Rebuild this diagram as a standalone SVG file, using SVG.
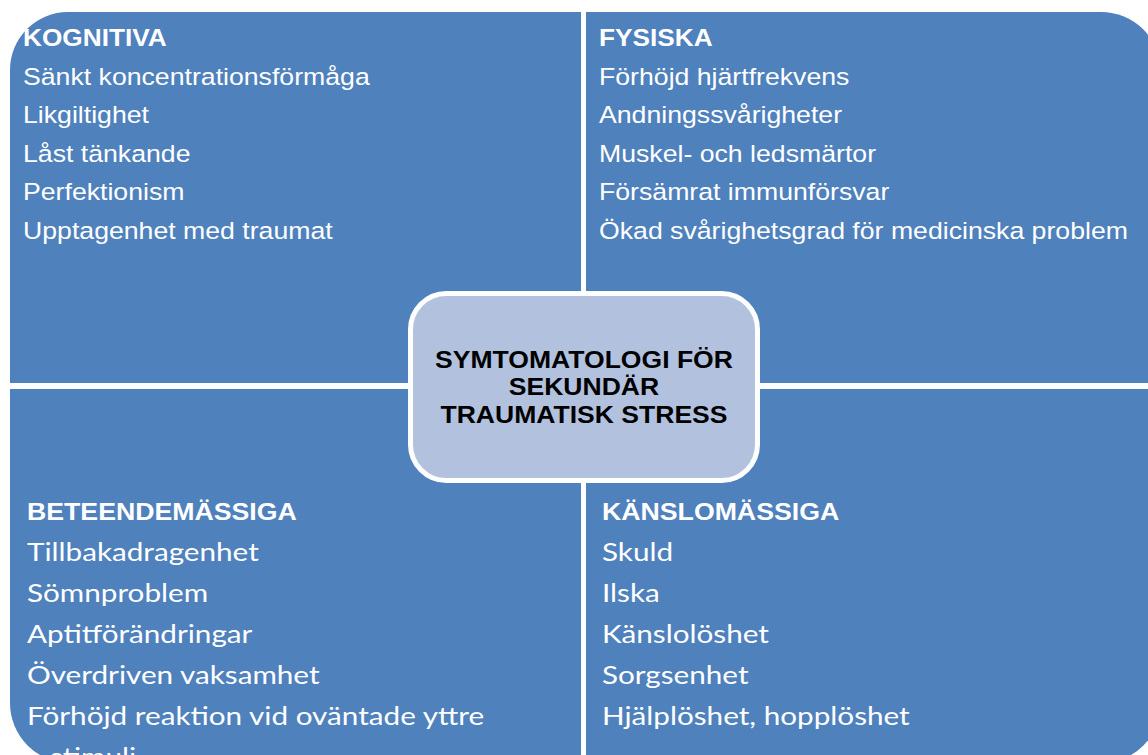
<svg xmlns="http://www.w3.org/2000/svg" width="1148" height="755" viewBox="0 0 1148 755">
<style>
.q{fill:#4F81BD}
.a{font-family:"Liberation Sans",Arial,sans-serif;font-size:23.7px;fill:#fff}
.ab{font-family:"Liberation Sans",Arial,sans-serif;font-size:23.2px;font-weight:bold;fill:#fff}
.c{font-family:Lato,"Noto Sans",sans-serif;font-size:25.7px;fill:#fff}
.ct{font-family:"Liberation Sans",Arial,sans-serif;font-size:23.7px;font-weight:bold;fill:#000;text-anchor:middle}
</style>
<rect width="1148" height="755" fill="#fff"/>
<g id="kognitiva">
<path class="q" d="M10,383 L10,70 A58,58 0 0 1 68,12 L581,12 L581,383 Z"/>
<text class="ab" transform="translate(23,46) scale(1.13,1)">KOGNITIVA</text>
<text class="a" transform="translate(23,84.5) scale(1.125,1)">Sänkt koncentrationsförmåga</text>
<text class="a" transform="translate(23,123) scale(1.125,1)">Likgiltighet</text>
<text class="a" transform="translate(23,161.5) scale(1.125,1)">Låst tänkande</text>
<text class="a" transform="translate(23,200) scale(1.125,1)">Perfektionism</text>
<text class="a" transform="translate(23,238.5) scale(1.125,1)">Upptagenhet med traumat</text>
</g>
<g id="fysiska">
<path class="q" d="M586,12 L1101,12 A60,60 0 0 1 1161,72 L1161,383 L586,383 Z"/>
<text class="ab" transform="translate(599,46) scale(1.13,1)">FYSISKA</text>
<text class="a" transform="translate(599,84.5) scale(1.125,1)">Förhöjd hjärtfrekvens</text>
<text class="a" transform="translate(599,123) scale(1.125,1)">Andningssvårigheter</text>
<text class="a" transform="translate(599,161.5) scale(1.125,1)">Muskel- och ledsmärtor</text>
<text class="a" transform="translate(599,200) scale(1.125,1)">Försämrat immunförsvar</text>
<text class="a" transform="translate(599,238.5) scale(1.125,1)">Ökad svårighetsgrad för medicinska problem</text>
</g>
<g id="beteendemassiga">
<path class="q" d="M10,389 L581,389 L581,763 L70,763 A60,60 0 0 1 10,703 Z"/>
<text class="ab" transform="translate(27,520) scale(1.15,1)">BETEENDEMÄSSIGA</text>
<text class="c" transform="translate(27,561) scale(1.155,1)">Tillbakadragenhet</text>
<text class="c" transform="translate(27,602) scale(1.155,1)">Sömnproblem</text>
<text class="c" transform="translate(27,643) scale(1.155,1)">Aptitförändringar</text>
<text class="c" transform="translate(27,684) scale(1.155,1)">Överdriven vaksamhet</text>
<text class="c" transform="translate(27,725) scale(1.155,1)">Förhöjd reaktion vid oväntade yttre</text>
<text class="c" transform="translate(50,766) scale(1.155,1)">stimuli</text>
</g>
<g id="kanslomassiga">
<path class="q" d="M586,389 L1161,389 L1161,703 A60,60 0 0 1 1101,763 L586,763 Z"/>
<text class="ab" transform="translate(602,520) scale(1.15,1)">KÄNSLOMÄSSIGA</text>
<text class="c" transform="translate(602,561) scale(1.155,1)">Skuld</text>
<text class="c" transform="translate(602,602) scale(1.155,1)">Ilska</text>
<text class="c" transform="translate(602,643) scale(1.155,1)">Känslolöshet</text>
<text class="c" transform="translate(602,684) scale(1.155,1)">Sorgsenhet</text>
<text class="c" transform="translate(602,725) scale(1.155,1)">Hjälplöshet, hopplöshet</text>
</g>
<g id="center">
<rect x="410.5" y="293.5" width="347" height="187" rx="36" ry="36" fill="#B2C2DE" stroke="#fff" stroke-width="5"/>
<text class="ct" transform="translate(584,367.5) scale(1.12,1)">SYMTOMATOLOGI FÖR</text>
<text class="ct" transform="translate(584,395) scale(1.12,1)">SEKUNDÄR</text>
<text class="ct" transform="translate(584,422.5) scale(1.12,1)">TRAUMATISK STRESS</text>
</g>
<g id="connectors"/>
</svg>
